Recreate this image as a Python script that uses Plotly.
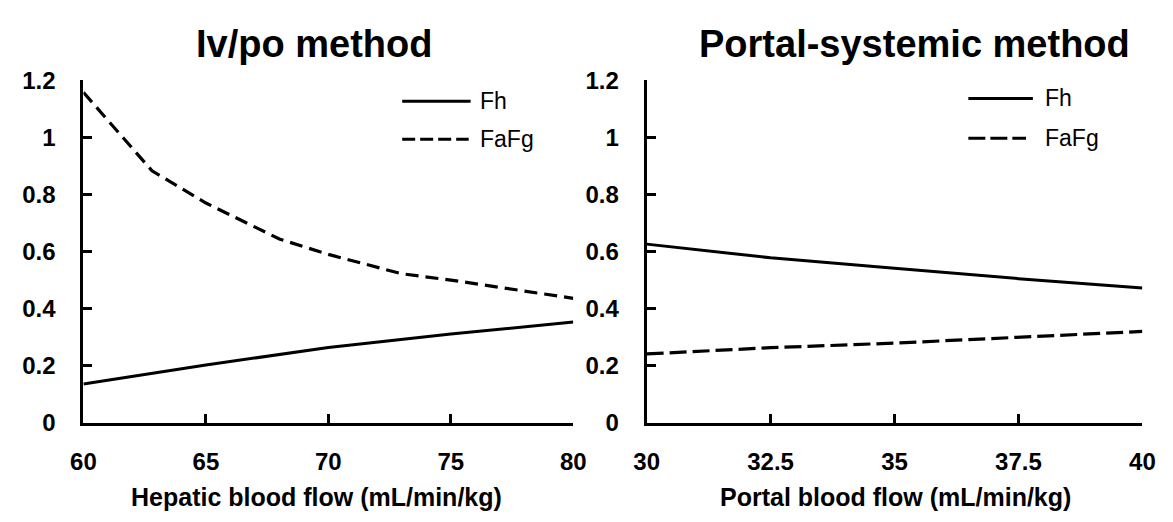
import plotly.graph_objects as go
from plotly.subplots import make_subplots

# Iv/po method: hepatic blood flow (mL/min/kg)
hep_flow_fh = [60, 65, 70, 75, 80]
fh_ivpo = [0.136, 0.202, 0.264, 0.311, 0.353]
hep_flow_fafg = [60, 62.8, 65, 68, 70, 73, 75, 80]
fafg_ivpo = [1.158, 0.883, 0.77, 0.644, 0.59, 0.522, 0.50, 0.436]

# Portal-systemic method: portal blood flow (mL/min/kg)
portal_flow = [30, 32.5, 35, 37.5, 40]
fh_ps = [0.626, 0.578, 0.541, 0.505, 0.472]
fafg_ps = [0.241, 0.263, 0.279, 0.299, 0.320]

y_ticks = [0, 0.2, 0.4, 0.6, 0.8, 1.0, 1.2]
y_ticktext = ["0", "0.2", "0.4", "0.6", "0.8", "1", "1.2"]
x_ticks_left = [60, 65, 70, 75, 80]
x_ticks_right = [30, 32.5, 35, 37.5, 40]

W, H = 1173, 522
FONT = "Liberation Sans, Arial, sans-serif"


def px(x):
    return x / W


def py(y):
    return 1 - y / H


fig = make_subplots(rows=1, cols=2)

fig.add_trace(go.Scatter(x=hep_flow_fh, y=fh_ivpo, mode="lines", name="Fh",
                         line=dict(color="black", width=3)), row=1, col=1)
fig.add_trace(go.Scatter(x=hep_flow_fafg, y=fafg_ivpo, mode="lines", name="FaFg",
                         line=dict(color="black", width=3.2, dash="13px,7px")), row=1, col=1)
fig.add_trace(go.Scatter(x=portal_flow, y=fh_ps, mode="lines", name="Fh",
                         line=dict(color="black", width=3)), row=1, col=2)
fig.add_trace(go.Scatter(x=portal_flow, y=fafg_ps, mode="lines", name="FaFg",
                         line=dict(color="black", width=3.2, dash="17px,6px")), row=1, col=2)

tick_font = dict(family=FONT, size=24, color="black", weight="bold")
axis_common = dict(showline=True, linecolor="black", linewidth=3, ticks="inside",
                   ticklen=9, tickwidth=3, tickcolor="black", showgrid=False,
                   zeroline=False, tickfont=tick_font)

y_dom = [py(431), py(70)]
fig.update_layout(
    xaxis=dict(domain=[px(72), px(573)], range=[60, 80], tickvals=x_ticks_left,
               ticklabelstandoff=15, **axis_common),
    xaxis2=dict(domain=[px(648), px(1155)], range=[30, 40], tickvals=x_ticks_right,
                ticklabelstandoff=15, **axis_common),
    yaxis=dict(domain=y_dom, range=[0, 1.2], tickvals=y_ticks, ticktext=y_ticktext,
               ticklabelstandoff=20, **axis_common),
    yaxis2=dict(domain=y_dom, range=[0, 1.2], tickvals=y_ticks, ticktext=y_ticktext,
                ticklabelstandoff=20, **axis_common),
    showlegend=False,
    width=W, height=H,
    margin=dict(l=0, r=0, t=0, b=0),
    paper_bgcolor="white", plot_bgcolor="white",
)

# Panel titles and axis titles
texts = [
    ("Iv/po method", 308, 32, 38),
    ("Portal-systemic method", 922, 32, 38),
    ("Hepatic blood flow (mL/min/kg)", 310, 509, 25),
    ("Portal blood flow (mL/min/kg)", 903, 509, 25),
]
for t, x, y, s in texts:
    fig.add_annotation(text=t, x=px(x), y=py(y), xref="paper", yref="paper",
                       showarrow=False, xanchor="center", yanchor="middle",
                       font=dict(family=FONT, size=s, color="black", weight="bold"))

# Legend keys drawn per panel
legend_rows = [
    # (x0, x1, y, label_x, label, dash)
    (398, 468, 92, 476, "Fh", "solid"),
    (398, 466, 132, 476, "FaFg", "13px,5px"),
    (977, 1043, 89, 1053, "Fh", "solid"),
    (977, 1036, 131, 1053, "FaFg", "17px,5px"),
]
for x0, x1, y, lx, label, dash in legend_rows:
    fig.add_shape(type="line", xref="paper", yref="paper",
                  x0=px(x0), x1=px(x1), y0=py(y), y1=py(y),
                  line=dict(color="black", width=3, dash=dash))
    fig.add_annotation(text=label, x=px(lx), y=py(y), xref="paper", yref="paper",
                       showarrow=False, xanchor="left", yanchor="middle",
                       font=dict(family=FONT, size=23, color="black"))

fig.write_html("out.html")
